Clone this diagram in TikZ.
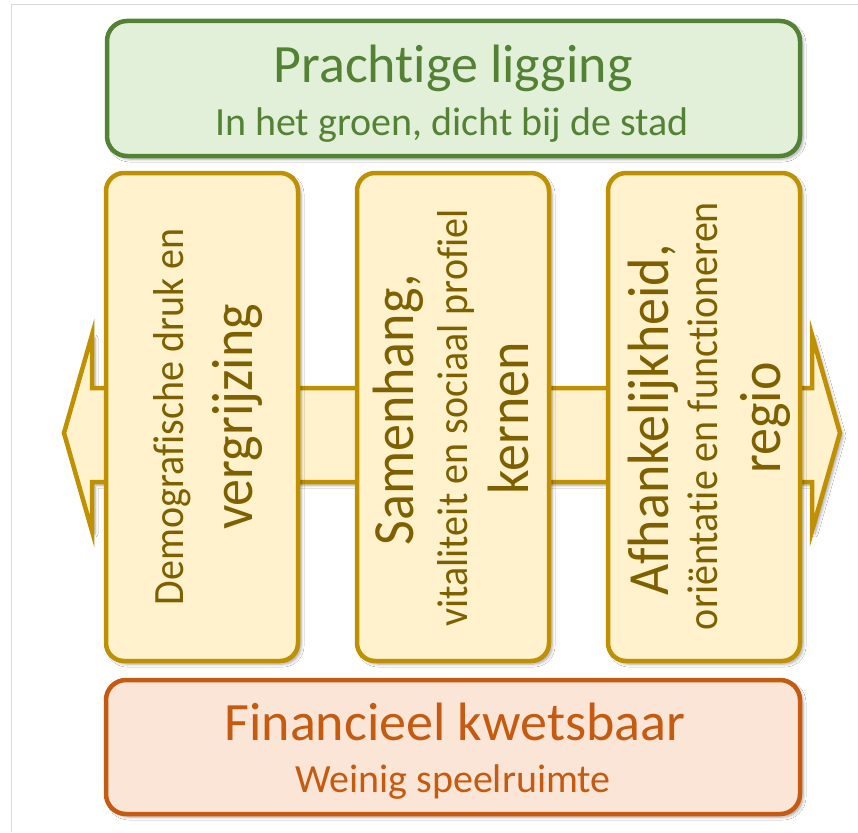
\documentclass[tikz,border=0pt]{standalone}
\usepackage{fontspec}
\usepackage{graphicx}
\setmainfont[Ligatures={NoCommon}]{Carlito}
\usetikzlibrary{shadows.blur}
\definecolor{grnB}{RGB}{84,130,53}
\definecolor{grnF}{RGB}{226,240,217}
\definecolor{gldB}{RGB}{191,144,0}
\definecolor{gldF}{RGB}{255,242,204}
\definecolor{gldT}{RGB}{127,96,0}
\definecolor{orgB}{RGB}{197,90,17}
\definecolor{orgF}{RGB}{251,229,214}
\definecolor{frameC}{RGB}{217,217,217}
\newcommand\vstretch[1]{\scalebox{1}[1.08]{#1}}
\begin{document}
\begin{tikzpicture}[x=1pt,y=-1pt,
  shad/.style={blur shadow={shadow xshift=3pt, shadow yshift=-3pt, shadow blur steps=6, shadow blur radius=3pt, shadow opacity=35}},
  box/.style={shape=rectangle, rounded corners=20pt, line width=4.5pt, inner sep=0pt, shad},
  greenbox/.style={box, draw=grnB, fill=grnF, minimum width=693pt, minimum height=135pt},
  orangebox/.style={box, draw=orgB, fill=orgF, minimum width=694pt, minimum height=134pt},
  goldbox/.style={box, rounded corners=18pt, draw=gldB, fill=gldF, minimum width=192pt, minimum height=488pt},
  bigtxt/.style={anchor=base, inner sep=0pt, font=\fontsize{54}{60}\selectfont},
  smalltxt/.style={anchor=base, inner sep=0pt, font=\fontsize{40}{46}\selectfont},
  vbig/.style={bigtxt, rotate=90, text=gldT},
  vsmall/.style={smalltxt, rotate=90, text=gldT}
]
\useasboundingbox (0,0) rectangle (858,832);
\fill[white] (0,0) rectangle (858,832);
\draw[frameC, line width=1pt] (11.5,832) -- (11.5,4.5) -- (858,4.5);

% double arrow behind the columns
\draw[gldB, fill=gldF, line width=4.5pt, shad]
  (64,433) -- (92,335) -- (92,388) -- (812,388) -- (812,335) -- (840,433)
  -- (812,531) -- (812,482) -- (92,482) -- (92,531) -- cycle;

% boxes
\node[greenbox] (top) at (453.5,88.5) {};
\node[goldbox] (colA) at (202,417) {};
\node[goldbox] (colB) at (453,417) {};
\node[goldbox] (colC) at (704,417) {};
\node[orangebox] (bot) at (453,747) {};

% top texts
\node[bigtxt, text=grnB] (topT) at (453,83) {Prachtige ligging};
\node[smalltxt, text=grnB] (topS) at (452,135) {In het groen, dicht bij de stad};

% bottom texts
\node[bigtxt, text=orgB] (botT) at (455,740) {Financieel kwetsbaar};
\node[smalltxt, text=orgB] (botS) at (453,792) {Weinig speelruimte};

% column A
\node[vsmall] (a1) at (183,417) {\vstretch{Demografische druk en}};
\node[vbig] (a2) at (252,417) {\vstretch{vergrijzing}};

% column B
\node[vbig] (b1) at (413,410) {\vstretch{Samenhang,}};
\node[vsmall] (b2) at (467,418) {\vstretch{vitaliteit en sociaal profiel}};
\node[vbig] (b3) at (528,418) {\vstretch{kernen}};

% column C
\node[vbig] (c1) at (668,420) {\vstretch{Afhankelijkheid,}};
\node[vsmall] (c2) at (717,416) {\vstretch{oriëntatie en functioneren}};
\node[vbig] (c3) at (780,418) {\vstretch{regio}};
\end{tikzpicture}
\end{document}
